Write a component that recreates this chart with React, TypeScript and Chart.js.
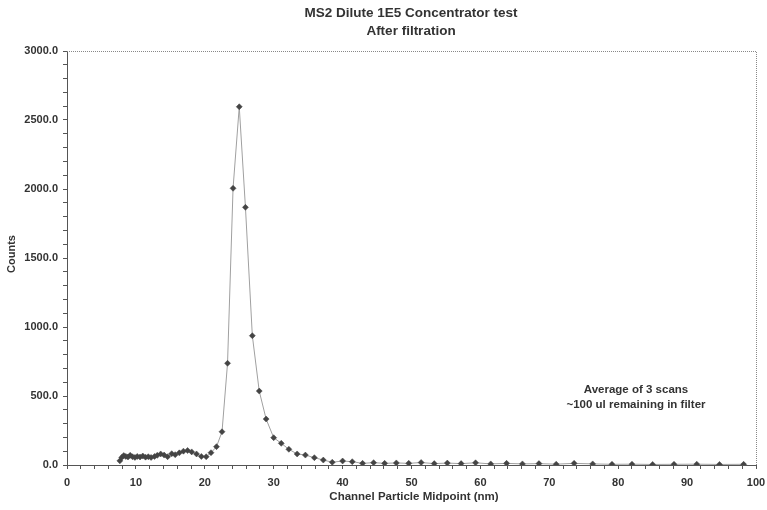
import React, { useEffect, useRef } from "react";
import { Chart, registerables } from "chart.js";

Chart.register(...registerables);

const TITLE_LINES = ["MS2 Dilute 1E5 Concentrator test", "After filtration"];
const NOTE_LINES = ["Average of 3 scans", "~100 ul remaining in filter"];
const X_TITLE = "Channel Particle Midpoint (nm)";
const Y_TITLE = "Counts";

const midpoints = [
  7.67, 7.95, 8.24, 8.54, 8.85, 9.17, 9.51, 9.86, 10.2, 10.6, 11.0, 11.4, 11.8, 12.2,
  12.7, 13.1, 13.6, 14.1, 14.6, 15.2, 15.7, 16.3, 16.9, 17.5, 18.1, 18.8, 19.5, 20.2,
  20.9, 21.7, 22.5, 23.3, 24.1, 25.0, 25.9, 26.9, 27.9, 28.9, 30.0, 31.1, 32.2, 33.4,
  34.6, 35.9, 37.2, 38.5, 40.0, 41.4, 42.9, 44.5, 46.1, 47.8, 49.6, 51.4, 53.3, 55.2,
  57.2, 59.3, 61.5, 63.8, 66.1, 68.5, 71.0, 73.6, 76.3, 79.1, 82.0, 85.0, 88.1, 91.4,
  94.7, 98.2,
];

const counts = [
  30, 55, 68, 62, 58, 70, 60, 55, 62, 58, 65, 57, 60, 55,
  62, 70, 80, 72, 60, 82, 75, 88, 100, 105, 95, 80, 62, 60,
  89, 133, 241, 737, 2005, 2596, 1867, 937, 536, 333, 198, 157, 114, 80,
  72, 53, 36, 20, 29, 24, 12, 17, 12, 15, 12, 18, 10, 14,
  10, 16, 8, 12, 8, 10, 6, 12, 8, 5, 6, 4, 5, 6,
  4, 5,
];

const X_MIN = 0;
const X_MAX = 100;
const Y_MIN = 0;
const Y_MAX = 3000;

const FONT = "'Liberation Sans', Arial, sans-serif";

export default function App() {
  const ref = useRef<HTMLCanvasElement | null>(null);

  useEffect(() => {
    document.body.style.margin = "0";
    const canvas = ref.current;
    if (!canvas) return;

    const textPlugin = {
      id: "texts",
      afterDraw(chart: any) {
        const ctx = chart.ctx;
        const area = chart.chartArea;
        ctx.save();
        ctx.strokeStyle = "#888";
        ctx.lineWidth = 1;
        ctx.setLineDash([1, 1]);
        ctx.beginPath();
        ctx.moveTo(area.left, area.top + 0.5);
        ctx.lineTo(area.right + 0.5, area.top + 0.5);
        ctx.lineTo(area.right + 0.5, area.bottom);
        ctx.stroke();
        ctx.setLineDash([]);

        ctx.fillStyle = "#333";
        ctx.textAlign = "center";
        ctx.textBaseline = "middle";
        ctx.font = `bold 13.5px ${FONT}`;
        ctx.fillText(TITLE_LINES[0], 411, 13);
        ctx.fillText(TITLE_LINES[1], 411, 31);

        ctx.font = `bold 11.5px ${FONT}`;
        ctx.fillText(NOTE_LINES[0], 636, 390);
        ctx.fillText(NOTE_LINES[1], 636, 405);

        ctx.font = `bold 11.5px ${FONT}`;
        ctx.fillText(X_TITLE, 414, 497);

        ctx.save();
        ctx.translate(12, 254);
        ctx.rotate(-Math.PI / 2);
        ctx.font = `bold 11px ${FONT}`;
        ctx.fillText(Y_TITLE, 0, 0);
        ctx.restore();
        ctx.restore();
      },
    };

    const chart = new Chart(canvas, {
      type: "line",
      data: {
        datasets: [
          {
            data: midpoints.map((x, i) => ({ x, y: counts[i] })),
            borderColor: "#a0a0a0",
            borderWidth: 1,
            pointStyle: "rectRot",
            pointRadius: 3,
            pointBackgroundColor: "#444",
            pointBorderColor: "#444",
            pointBorderWidth: 0.5,
            tension: 0,
            fill: false,
          },
        ],
      },
      options: {
        animation: false,
        responsive: false,
        maintainAspectRatio: false,
        layout: { padding: { top: 51, right: 11, left: 0, bottom: 0 } },
        plugins: {
          legend: { display: false },
          title: { display: false },
          tooltip: { enabled: false },
        },
        scales: {
          x: {
            type: "linear",
            min: X_MIN,
            max: X_MAX,
            afterFit(scale: any) {
              scale.height = 45;
              scale.paddingLeft = 0;
              scale.paddingRight = 0;
            },
            ticks: {
              stepSize: 2,
              autoSkip: false,
              maxRotation: 0,
              padding: 7,
              color: "#333",
              font: { family: FONT, size: 11, weight: "bold" },
              callback: (v: any) => (Number(v) % 10 === 0 ? String(v) : ""),
            },
            grid: {
              drawOnChartArea: false,
              drawTicks: true,
              tickLength: 4,
              color: "#555",
            },
            border: { color: "#555", width: 1 },
          },
          y: {
            type: "linear",
            min: Y_MIN,
            max: Y_MAX,
            afterFit(scale: any) {
              scale.width = 67;
              scale.paddingTop = 0;
              scale.paddingBottom = 0;
            },
            ticks: {
              stepSize: 100,
              autoSkip: false,
              padding: 5,
              color: "#333",
              font: { family: FONT, size: 11, weight: "bold" },
              callback: (v: any) => (Number(v) % 500 === 0 ? Number(v).toFixed(1) : ""),
            },
            grid: {
              drawOnChartArea: false,
              drawTicks: true,
              tickLength: 4,
              color: "#555",
            },
            border: { color: "#555", width: 1 },
          },
        },
      },
      plugins: [textPlugin],
    });

    return () => chart.destroy();
  }, []);

  return (
    <div style={{ width: 767, height: 510, position: "relative", background: "#fff" }}>
      <canvas ref={ref} width={767} height={510} style={{ display: "block" }} />
    </div>
  );
}
